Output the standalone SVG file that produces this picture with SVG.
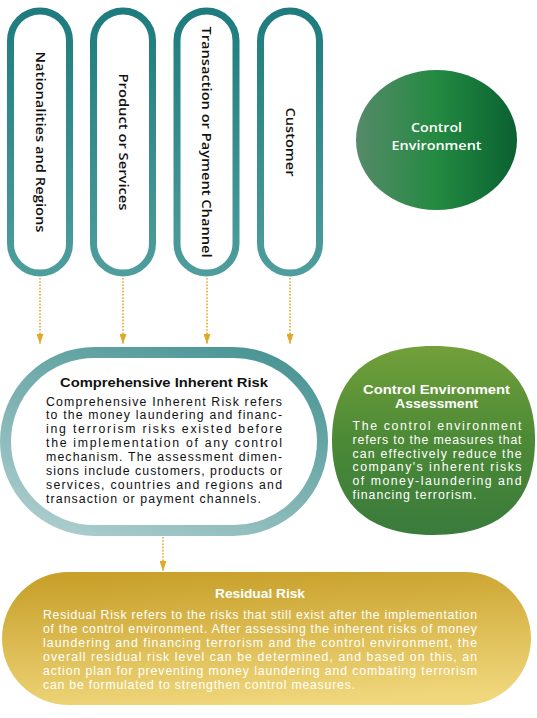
<svg xmlns="http://www.w3.org/2000/svg" width="537" height="718" viewBox="0 0 537 718">
<defs>
  <linearGradient id="gPill" x1="0" y1="0" x2="0" y2="1">
    <stop offset="0" stop-color="#1e7c7e"/>
    <stop offset="1" stop-color="#4f9d9d"/>
  </linearGradient>
  <linearGradient id="gRing" x1="0.8" y1="0" x2="0.2" y2="1">
    <stop offset="0" stop-color="#4c9696"/>
    <stop offset="1" stop-color="#a9cbcb"/>
  </linearGradient>
  <linearGradient id="gCE" x1="0" y1="0" x2="1" y2="0">
    <stop offset="0" stop-color="#568a69"/>
    <stop offset="0.5" stop-color="#238a41"/>
    <stop offset="1" stop-color="#0a6131"/>
  </linearGradient>
  <linearGradient id="gCEA" x1="0" y1="0" x2="0" y2="1">
    <stop offset="0" stop-color="#72a03a"/>
    <stop offset="0.5" stop-color="#4c8936"/>
    <stop offset="1" stop-color="#3a7b3d"/>
  </linearGradient>
  <linearGradient id="gRes" x1="0.3" y1="0" x2="0.5" y2="1">
    <stop offset="0" stop-color="#c8a02a"/>
    <stop offset="1" stop-color="#f0d77c"/>
  </linearGradient>
  <marker id="arr" viewBox="0 0 10 7" markerWidth="10" markerHeight="7" refX="10" refY="3.5" orient="auto" markerUnits="userSpaceOnUse">
    <path d="M0,0 L10,3.5 L0,7 z" fill="#e0aa28"/>
  </marker>
  <style>
    .pill { fill: #ffffff; stroke: url(#gPill); stroke-width: 7; }
    .ptxt { font-family: "Open Sans", "Liberation Sans", sans-serif; font-size: 13px; font-weight: 600; fill: #111; text-anchor: middle; }
    .conn { stroke: #e0aa28; stroke-width: 1.6; stroke-dasharray: 1.6 1.6; fill: none; }
    .title { font-family: "Liberation Sans", Arial, sans-serif; font-size: 13px; font-weight: 700; text-anchor: middle; }
    .title2 { font-family: "Liberation Sans", Arial, sans-serif; font-size: 12.3px; font-weight: 700; text-anchor: middle; }
    .body { font-family: "Liberation Sans", Arial, sans-serif; font-size: 12.3px; font-weight: 400; }
    .dark { fill: #111; }
    .light { fill: #ffffff; }
  </style>
</defs>

<g id="connectors">
  <line class="conn" x1="40" y1="278" x2="40" y2="344" marker-end="url(#arr)"/>
  <line class="conn" x1="123" y1="278" x2="123" y2="344" marker-end="url(#arr)"/>
  <line class="conn" x1="207" y1="278" x2="207" y2="344" marker-end="url(#arr)"/>
  <line class="conn" x1="290" y1="278" x2="290" y2="344" marker-end="url(#arr)"/>
  <line class="conn" x1="163" y1="537" x2="163" y2="571" marker-end="url(#arr)"/>
</g>

<g id="node-nationalities">
  <rect class="pill" x="10.5" y="11" width="59" height="262" rx="29.5"/>
  <text class="ptxt" transform="translate(40,142) rotate(90)" x="0" y="4.5" textLength="181" lengthAdjust="spacingAndGlyphs">Nationalities and Regions</text>
</g>
<g id="node-product">
  <rect class="pill" x="93.5" y="11" width="59" height="262" rx="29.5"/>
  <text class="ptxt" transform="translate(123,142) rotate(90)" x="0" y="4.5" textLength="137" lengthAdjust="spacingAndGlyphs">Product or Services</text>
</g>
<g id="node-transaction">
  <rect class="pill" x="177" y="11" width="59" height="262" rx="29.5"/>
  <text class="ptxt" transform="translate(206.5,142) rotate(90)" x="0" y="4.5" textLength="231" lengthAdjust="spacingAndGlyphs">Transaction or Payment Channel</text>
</g>
<g id="node-customer">
  <rect class="pill" x="260.5" y="11" width="59" height="262" rx="29.5"/>
  <text class="ptxt" transform="translate(290,142) rotate(90)" x="0" y="4.5" textLength="69" lengthAdjust="spacingAndGlyphs">Customer</text>
</g>

<g id="node-control-environment">
  <ellipse cx="436.5" cy="140" rx="80.5" ry="70" fill="url(#gCE)"/>
  <text x="436.5" y="132" font-family="'Open Sans', 'Liberation Sans', sans-serif" font-size="13" font-weight="600" fill="#fff" text-anchor="middle" textLength="51" lengthAdjust="spacingAndGlyphs">Control</text>
  <text x="436.5" y="150" font-family="'Open Sans', 'Liberation Sans', sans-serif" font-size="13" font-weight="600" fill="#fff" text-anchor="middle" textLength="90" lengthAdjust="spacingAndGlyphs">Environment</text>
</g>

<g id="node-inherent-risk">
  <rect x="5.5" y="352.5" width="317" height="178" rx="89" ry="89" fill="#fff" stroke="url(#gRing)" stroke-width="11"/>
  <text class="title dark" x="164" y="386.5" textLength="208" lengthAdjust="spacingAndGlyphs">Comprehensive Inherent Risk</text>
  <g class="body dark">
    <text x="46" y="405.5" textLength="236" lengthAdjust="spacing">Comprehensive Inherent Risk refers</text>
    <text x="46" y="419.4" textLength="236" lengthAdjust="spacing">to the money laundering and financ-</text>
    <text x="46" y="433.3" textLength="236" lengthAdjust="spacing">ing terrorism risks existed before</text>
    <text x="46" y="447.2" textLength="236" lengthAdjust="spacing">the implementation of any control</text>
    <text x="46" y="461.1" textLength="236" lengthAdjust="spacing">mechanism. The assessment dimen-</text>
    <text x="46" y="475" textLength="236" lengthAdjust="spacing">sions include customers, products or</text>
    <text x="46" y="488.9" textLength="236" lengthAdjust="spacing">services, countries and regions and</text>
    <text x="46" y="502.8" textLength="215" lengthAdjust="spacing">transaction or payment channels.</text>
  </g>
</g>

<g id="node-control-assessment">
  <path d="M433.5,346 C506,346 535,385 535,440 C535,497 506,535 433.5,535 C361,535 332,497 332,440 C332,385 361,346 433.5,346 Z" fill="url(#gCEA)"/>
  <text class="title2 light" x="436.5" y="394" textLength="147" lengthAdjust="spacingAndGlyphs">Control Environment</text>
  <text class="title2 light" x="436.5" y="407.8" textLength="83" lengthAdjust="spacingAndGlyphs">Assessment</text>
  <g class="body light">
    <text x="352.5" y="430" textLength="169" lengthAdjust="spacing">The control environment</text>
    <text x="352.5" y="443.8" textLength="169" lengthAdjust="spacing">refers to the measures that</text>
    <text x="352.5" y="457.6" textLength="169" lengthAdjust="spacing">can effectively reduce the</text>
    <text x="352.5" y="471.4" textLength="169" lengthAdjust="spacing">company's inherent risks</text>
    <text x="352.5" y="485.2" textLength="169" lengthAdjust="spacing">of money-laundering and</text>
    <text x="352.5" y="499" textLength="124" lengthAdjust="spacing">financing terrorism.</text>
  </g>
</g>

<g id="node-residual-risk">
  <rect x="2" y="572" width="529" height="133" rx="66.5" ry="66.5" fill="url(#gRes)"/>
  <text class="title light" x="260" y="598" textLength="90" lengthAdjust="spacingAndGlyphs">Residual Risk</text>
  <g class="body light">
    <text x="43" y="619" textLength="434" lengthAdjust="spacing">Residual Risk refers to the risks that still exist after the implementation</text>
    <text x="43" y="632.9" textLength="434" lengthAdjust="spacing">of the control environment. After assessing the inherent risks of money</text>
    <text x="43" y="646.8" textLength="434" lengthAdjust="spacing">laundering and financing terrorism and the control environment, the</text>
    <text x="43" y="660.7" textLength="434" lengthAdjust="spacing">overall residual risk level can be determined, and based on this, an</text>
    <text x="43" y="674.6" textLength="434" lengthAdjust="spacing">action plan for preventing money laundering and combating terrorism</text>
    <text x="43" y="688.5" textLength="312" lengthAdjust="spacing">can be formulated to strengthen control measures.</text>
  </g>
</g>
</svg>
